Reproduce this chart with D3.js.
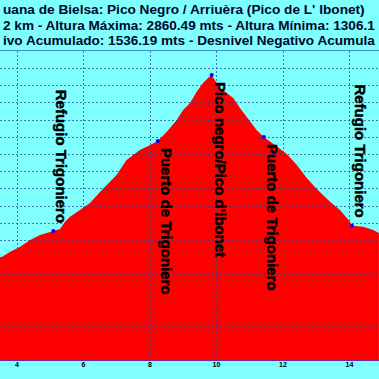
<!DOCTYPE html>
<html>
<head>
<meta charset="utf-8">
<script src="https://cdn.jsdelivr.net/npm/d3@7/dist/d3.min.js"></script>
<style>
body { margin: 0; background: #80ffff; overflow: hidden; }
text { font-family: "Liberation Sans", Arial, sans-serif; font-weight: bold; }
</style>
</head>
<body>
<div id="chart"></div>
<script>
var chart_width = 379;
var chart_height = 379;

// Perfil: distancia (km) / altura (m)
var distKm = [3.50, 3.81, 4.11, 4.41, 4.71, 5.11, 5.31, 5.46, 5.61, 5.91, 6.21, 6.51, 7.01, 7.31, 7.51, 7.71,
              8.02, 8.25, 8.52, 8.82, 9.01, 9.22, 9.42, 9.61, 9.76, 9.87, 10.12, 10.32, 10.52, 10.72, 10.92,
              11.22, 11.44, 11.83, 12.13, 12.43, 12.73, 13.03, 13.43, 13.73, 14.03, 14.09, 14.43, 14.73, 14.90];
var altM = [1794, 1831, 1860, 1899, 1928, 1951, 1963, 2006, 2035, 2074, 2115, 2179, 2278, 2365, 2394, 2423,
            2452, 2476, 2530, 2598, 2656, 2697, 2763, 2814, 2843, 2860, 2783, 2755, 2726, 2668, 2617,
            2540, 2499, 2443, 2400, 2336, 2260, 2196, 2122, 2074, 2006, 1982, 1976, 1957, 1940];

// Puntos de paso
var wpNames = ["Refugio Trigoniero", "Puerto de Trigoniero", "Pico negro/Pico d'ibonet", "Puerto de Trigoniero", "Refugio Trigoniero"];
var wpKm = [5.11, 8.25, 9.87, 11.44, 14.09];
var wpAlt = [1951, 2476, 2860, 2499, 1982];

var xTicks = [4, 6, 8, 10, 12, 14];
var titleLines = [
  "uana de Bielsa: Pico Negro / Arriuèra (Pico de L' Ibonet)",
  "2 km - Altura Máxima: 2860.49 mts - Altura Mínima: 1306.1",
  "ivo Acumulado: 1536.19 mts - Desnivel Negativo Acumula"
];
var titleWidths = [362, 372, 372];

var x = d3.scaleLinear().domain([4, 14]).range([16.5, 349]);
var y = d3.scaleLinear().domain([1200, 3000]).range([360, 51]);

var svg = d3.select('#chart')
			.append('svg')
			.attr('width', chart_width)
			.attr('height', chart_height);

svg.append('rect')
	.attr('width', chart_width)
	.attr('height', chart_height)
	.attr('fill', '#80ffff');

// Title (font size fitted to the width of each line)
svg.selectAll('text.title')
	.data(titleLines)
	.enter()
	.append('text')
	.attr('class', 'title')
	.attr('x', 3)
	.attr('y', function(d, i){ return 14 + i * 15.5; })
	.attr('font-size', 14.5)
	.attr('fill', '#00082c')
	.text(function(d){ return d; })
	.each(function(d, i){
		var w = this.getComputedTextLength();
		d3.select(this).attr('font-size', 14.5 * titleWidths[i] / w);
	});

// Profile area
var profile = distKm.map(function(d, i){ return [d, altM[i]]; });
var area = d3.area()
			.x(function(d){ return x(d[0]); })
			.y0(y(1200))
			.y1(function(d){ return y(d[1]); });

svg.append('path')
	.datum(profile)
	.attr('d', area)
	.attr('fill', '#ff0000');

// Grid
var grid = svg.append('g').attr('stroke', '#2a3c9a').attr('stroke-width', 1);
grid.selectAll('line.h')
	.data(d3.range(1300, 3000, 100))
	.enter()
	.append('line')
	.attr('x1', 0).attr('x2', chart_width)
	.attr('y1', function(d){ return Math.round(y(d)) + 0.5; })
	.attr('y2', function(d){ return Math.round(y(d)) + 0.5; })
	.attr('stroke-dasharray', '2,2')
	.attr('opacity', 0.7);
grid.selectAll('line.v')
	.data(xTicks)
	.enter()
	.append('line')
	.attr('y1', y(3000)).attr('y2', y(1200))
	.attr('x1', function(d){ return Math.round(x(d)) + 0.5; })
	.attr('x2', function(d){ return Math.round(x(d)) + 0.5; })
	.attr('stroke-dasharray', '2,2')
	.attr('opacity', 0.7);
grid.append('line')
	.attr('x1', 0).attr('x2', chart_width)
	.attr('y1', Math.round(y(3000)) - 0.5).attr('y2', Math.round(y(3000)) - 0.5)
	.attr('stroke', '#4a8ad0');
grid.append('line')
	.attr('x1', 0).attr('x2', chart_width)
	.attr('y1', Math.round(y(1200)) + 0.5).attr('y2', Math.round(y(1200)) + 0.5)
	.attr('stroke', '#6a2aa0');

// X axis labels
var xAxis = d3.axisBottom(x).tickValues(xTicks).tickSize(0).tickPadding(2);
var gx = svg.append('g')
	.attr('transform', 'translate(0,' + y(1200) + ')')
	.call(xAxis);
gx.select('.domain').remove();
gx.selectAll('text')
	.attr('font-size', 7)
	.attr('font-family', '"Liberation Sans", Arial, sans-serif')
	.attr('font-weight', 'bold')
	.attr('fill', '#000');

// Waypoints
svg.selectAll('circle')
	.data(wpKm)
	.enter()
	.append('circle')
	.attr('cx', function(d){ return x(d); })
	.attr('cy', function(d, i){ return y(wpAlt[i]); })
	.attr('r', 2)
	.attr('fill', '#0000ff');

svg.selectAll('text.wp')
	.data(wpNames)
	.enter()
	.append('text')
	.attr('class', 'wp')
	.attr('font-size', 15)
	.attr('fill', '#000')
	.attr('stroke', '#000')
	.attr('stroke-width', 0.5)
	.text(function(d){ return d; })
	.each(function(d, i){
		var t = d3.select(this);
		var len = this.getComputedTextLength();
		var px = x(wpKm[i]) + 3;
		var py = y(wpAlt[i]);
		if (py + 7 + len < y(1200)) {
			t.attr('text-anchor', 'start')
			 .attr('transform', 'translate(' + px + ',' + (py + 7) + ') rotate(90)');
		} else {
			t.attr('text-anchor', 'end')
			 .attr('transform', 'translate(' + px + ',' + (py - 8) + ') rotate(90)');
		}
	});
</script>
</body>
</html>
